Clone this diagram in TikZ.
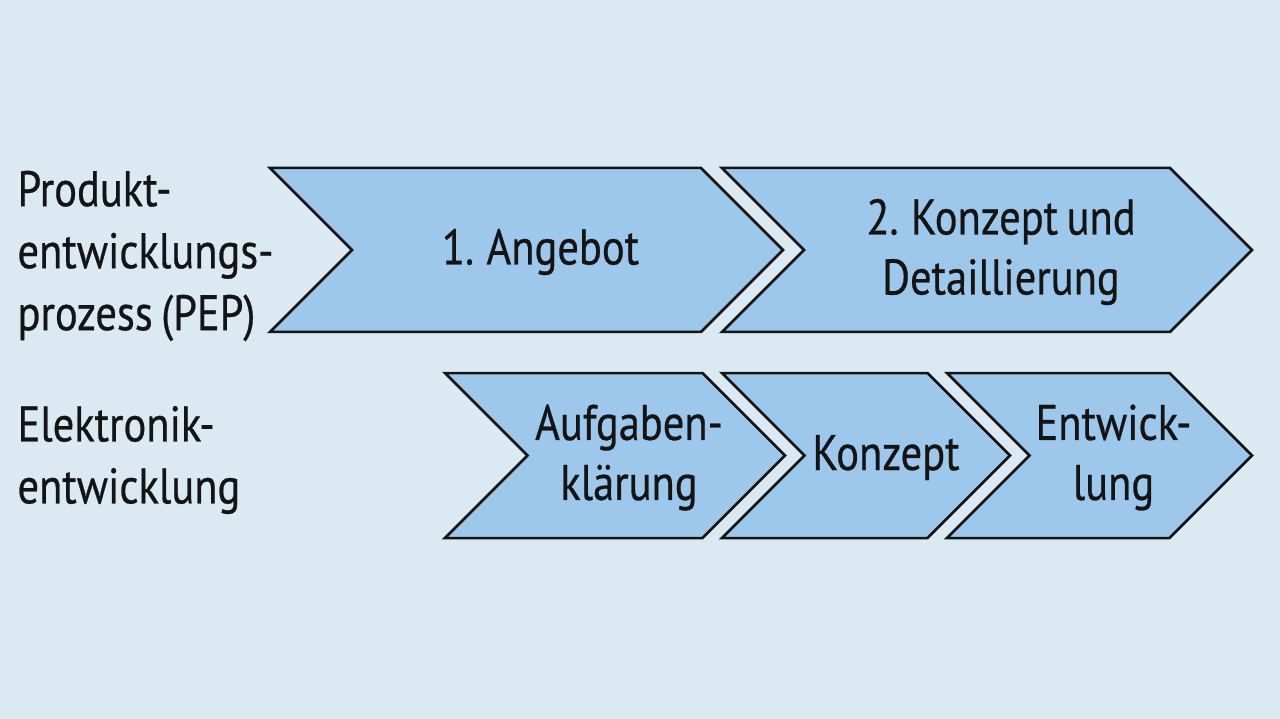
\documentclass[tikz,border=0pt]{standalone}
\usepackage{fontspec}
\setmainfont{PT Sans}[FakeStretch=0.85, FakeBold=0.5, WordSpace=0.75]
\usetikzlibrary{shapes.symbols, positioning}
\definecolor{bgblue}{HTML}{DBE9F3}
\definecolor{chevblue}{HTML}{9DC8EB}
\definecolor{inkblack}{HTML}{141414}

\begin{document}
\begin{tikzpicture}[x=1pt,y=-1pt]
\tikzstyle{phase} = [signal, signal from=west, signal to=east, signal pointer angle=90, draw=inkblack, line width=2.5pt, fill=chevblue, inner sep=0pt]
\tikzstyle{lbl} = [text=inkblack, font=\fontsize{50}{60}\selectfont, align=center, xshift=14pt, yshift=-2pt]
\tikzstyle{side} = [text=inkblack, font=\fontsize{50}{62}\selectfont, align=left, anchor=west]

\fill[bgblue] (0,0) rectangle (1280,719);
\useasboundingbox (0,0) rectangle (1280,719);

% PEP row
\node (pep1) [phase, minimum width=513pt, minimum height=164pt] at (526.5,250) {};
\node (pep2) [phase, minimum width=530pt, minimum height=164pt] at (987,250) {};
\node [lbl] at (pep1.center) {1. Angebot};
\node [lbl] at (pep2.center) {2. Konzept und\\Detaillierung};

% Elektronik row
\node (el1) [phase, minimum width=340pt, minimum height=165pt] at (615,455.5) {};
\node (el2) [phase, minimum width=288pt, minimum height=165pt] at (866,455.5) {};
\node (el3) [phase, minimum width=305pt, minimum height=165pt] at (1099.5,455.5) {};
\node [lbl] at (el1.center) {Aufgaben-\\klärung};
\node [lbl, xshift=6pt] at (el2.center) {Konzept};
\node [lbl] at (el3.center) {Entwick-\\lung};

% row titles
\node (pepname) [side] at (14,256) {Produkt-\\entwicklungs-\\prozess (PEP)};
\node (elname) [side] at (14,460) {Elektronik-\\entwicklung};

\end{tikzpicture}
\end{document}
